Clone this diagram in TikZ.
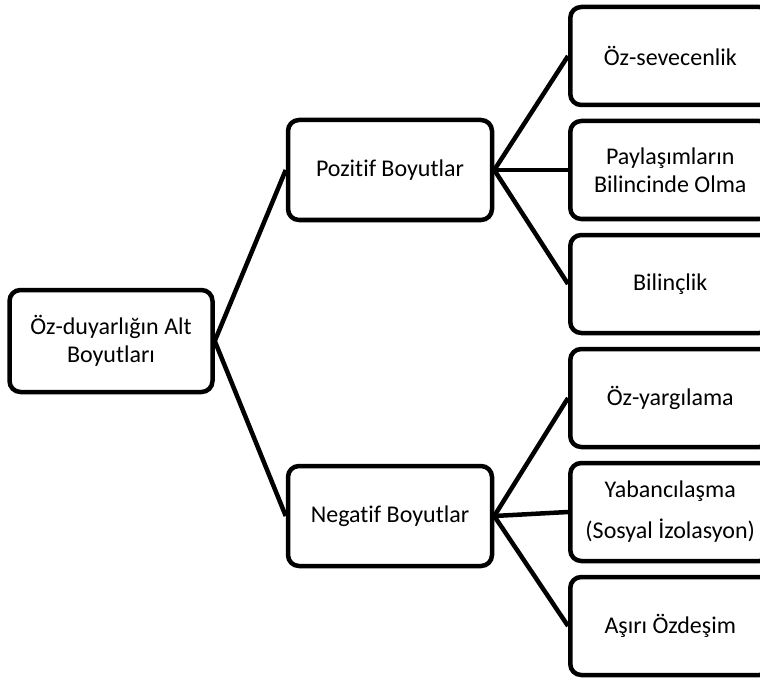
\documentclass[tikz,border=0pt]{standalone}
\usepackage{fontspec}
\setmainfont{Carlito}[Ligatures=NoCommon]
\usetikzlibrary{positioning, calc}

\begin{document}
\begin{tikzpicture}[
                x=1pt, y=1pt,
                node distance=11.5pt,
                kutu/.style={draw, line width=4.5pt, rounded corners=11pt, fill=white, align=center, font=\fontsize{24}{28}\selectfont, minimum height=98pt},
                ortakutu/.style={kutu, minimum width=204pt, minimum height=100pt},
                sagkutu/.style={kutu, minimum width=200pt, anchor=west},
                bag/.style={line width=4.5pt}
            ]
                \useasboundingbox (0,0) rectangle (760,-679);
                % Ana boyutlar
                \node[ortakutu] (pozitif) at (390,-170) {Pozitif Boyutlar};
                \node[ortakutu] (negatif) at (390,-516) {Negatif Boyutlar};
                \node[kutu, minimum width=203pt, minimum height=102pt] (kok) at (111,-341) {Öz-duyarlığın Alt\\Boyutları};
                
                % Alt boyutlar
                \node[sagkutu] (paylasim) at (568,-170) {Paylaşımların\\Bilincinde Olma};
                \node[sagkutu] (sevecenlik) [above=of paylasim] {Öz-sevecenlik};
                \node[sagkutu] (bilinclik) [below=of paylasim] {Bilinçlik};
                \node[sagkutu] (yargilama) [below=of bilinclik] {Öz-yargılama};
                \node[sagkutu] (yabanci) [below=of yargilama] {Yabancılaşma\\[13pt](Sosyal İzolasyon)};
                \node[sagkutu] (ozdesim) [below=of yabanci] {Aşırı Özdeşim};
                
                % Bağlantılar
                \draw[bag] (kok.east) -- (pozitif.west);
                \draw[bag] (kok.east) -- (negatif.west);
                \foreach \alt in {sevecenlik, paylasim, bilinclik}
                    \draw[bag] (pozitif.east) -- (\alt.west);
                \foreach \alt in {yargilama, yabanci, ozdesim}
                    \draw[bag] (negatif.east) -- (\alt.west);
            \end{tikzpicture}
\end{document}
